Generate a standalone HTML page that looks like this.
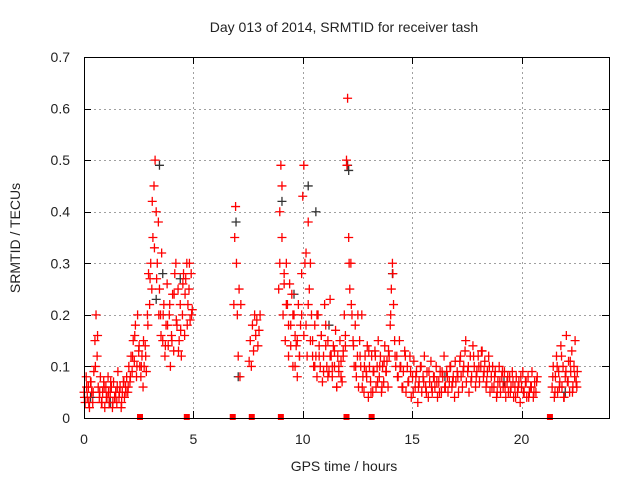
<!DOCTYPE html>
<html><head><meta charset="utf-8"><style>
html,body{margin:0;padding:0;background:#fff;}
svg{display:block;font-family:"Liberation Sans",sans-serif;}
</style></head><body>
<svg id="chart" width="640" height="480" viewBox="0 0 640 480"></svg>
<script>
const xTicks = [0,5,10,15,20];
const yTicks = [0,0.1,0.2,0.3,0.4,0.5,0.6,0.7];
const yTickLabels = ["0","0.1","0.2","0.3","0.4","0.5","0.6","0.7"];
const gapHours = [2.56,4.7,6.8,7.67,9.0,12.0,13.15,21.3];
const segStarts = [0,0.02,2.6,2.62,6.85,7.55,8.9,8.95,12.0,12.02,14.3,14.33,21.4,21.43];
const segSteps = [0.05,0.1,0.05,0.1,0.04,0.05,0.05,0.1,0.05,0.1,0.06,0.12,0.05,0.1];
const segValues = [
[0.05,0.03,0.08,0.04,0.06,0.02,0.07,0.05,0.03,0.09,0.15,0.2,0.12,0.06,0.04,0.08,0.03,0.05,0.07,0.02,0.06,0.04,0.08,0.03,0.05,0.06,0.02,0.07,0.04,0.05,0.03,0.09,0.04,0.06,0.02,0.05,0.07,0.04,0.06,0.08,0.05,0.1,0.07,0.12,0.09,0.15,0.11,0.18,0.08,0.2,0.13,0.1],
[0.04,0.06,0.03,0.07,0.05,0.1,0.16,0.05,0.03,0.06,0.04,0.05,0.07,0.03,0.04,0.06,0.05,0.03,0.07,0.05,0.06,0.08,0.12,0.16,0.1,0.14],
[0.08,0.12,0.06,0.1,0.14,0.09,0.2,0.28,0.22,0.3,0.25,0.35,0.45,0.5,0.4,0.3,0.38,0.25,0.2,0.32,0.15,0.22,0.12,0.18,0.26,0.14,0.2,0.1,0.16,0.24,0.13,0.28,0.3,0.18,0.25,0.15,0.22,0.12,0.2,0.28,0.16,0.27,0.3,0.22,0.25,0.19,0.28,0.21],
[0.1,0.15,0.12,0.18,0.27,0.42,0.33,0.27,0.2,0.16,0.2,0.14,0.18,0.22,0.15,0.24,0.19,0.13,0.17,0.26,0.24,0.18,0.3,0.2],
[0.22,0.35,0.41,0.3,0.2,0.12,0.25,0.08,0.22],
[0.11,0.15,0.1,0.18,0.13,0.2,0.16,0.19,0.14,0.17,0.2],
[0.25,0.4,0.49,0.35,0.2,0.28,0.15,0.3,0.22,0.12,0.26,0.18,0.24,0.1,0.2,0.16,0.14,0.08,0.22,0.12,0.18,0.28,0.43,0.49,0.3,0.18,0.12,0.38,0.25,0.3,0.2,0.15,0.1,0.18,0.12,0.08,0.2,0.14,0.1,0.16,0.07,0.12,0.22,0.18,0.1,0.15,0.09,0.23,0.12,0.08,0.14,0.1,0.17,0.06,0.12,0.09,0.15,0.11,0.07,0.13,0.2,0.16],
[0.3,0.45,0.26,0.22,0.18,0.14,0.2,0.1,0.15,0.12,0.2,0.16,0.32,0.22,0.15,0.12,0.1,0.2,0.12,0.16,0.09,0.14,0.08,0.12,0.1,0.13,0.06,0.1,0.08,0.12,0.14],
[0.5,0.62,0.35,0.25,0.3,0.2,0.15,0.1,0.18,0.08,0.12,0.06,0.15,0.1,0.2,0.08,0.05,0.12,0.09,0.14,0.04,0.1,0.07,0.12,0.05,0.09,0.13,0.06,0.1,0.15,0.08,0.12,0.05,0.1,0.07,0.14,0.09,0.11,0.06,0.12,0.18,0.25,0.3,0.22,0.15,0.1],
[0.49,0.3,0.22,0.14,0.1,0.2,0.12,0.06,0.1,0.08,0.13,0.05,0.09,0.12,0.07,0.1,0.06,0.11,0.09,0.13,0.2,0.28,0.12],
[0.12,0.08,0.15,0.1,0.06,0.09,0.13,0.05,0.1,0.07,0.12,0.04,0.08,0.11,0.06,0.09,0.03,0.07,0.1,0.05,0.08,0.12,0.06,0.09,0.04,0.07,0.11,0.05,0.08,0.06,0.1,0.04,0.07,0.09,0.05,0.08,0.12,0.06,0.09,0.05,0.07,0.1,0.06,0.08,0.04,0.07,0.09,0.05,0.11,0.08,0.06,0.1,0.13,0.07,0.09,0.05,0.12,0.08,0.14,0.1,0.06,0.09,0.12,0.07,0.1,0.13,0.08,0.11,0.06,0.09,0.12,0.05,0.08,0.1,0.06,0.09,0.04,0.07,0.1,0.05,0.08,0.06,0.09,0.04,0.07,0.05,0.08,0.06,0.09,0.04,0.06,0.08,0.05,0.07,0.03,0.06,0.09,0.05,0.07,0.04,0.08,0.05,0.06,0.09,0.04,0.07,0.05,0.08],
[0.08,0.1,0.06,0.12,0.07,0.09,0.05,0.08,0.06,0.1,0.07,0.05,0.09,0.06,0.08,0.07,0.05,0.09,0.06,0.08,0.1,0.07,0.11,0.08,0.12,0.09,0.15,0.1,0.07,0.12,0.08,0.1,0.13,0.09,0.07,0.1,0.06,0.08,0.05,0.07,0.09,0.06,0.08,0.05,0.07,0.04,0.06,0.08,0.05,0.07,0.04,0.06,0.05,0.07],
[0.06,0.1,0.04,0.08,0.12,0.05,0.09,0.07,0.14,0.06,0.1,0.04,0.08,0.16,0.07,0.11,0.05,0.09,0.13,0.06,0.1,0.15,0.07,0.09],
[0.08,0.05,0.1,0.06,0.12,0.04,0.09,0.07,0.11,0.05,0.08,0.06]
];
const blackHours = [3.3,3.45,3.6,4.4,6.95,7.05,9.05,10.25,10.6,12.05,12.1,14.1,16.5,19.2,22.0,0.3,1.2,9.6,11.2];
const blackVals = [0.23,0.49,0.28,0.27,0.38,0.08,0.42,0.45,0.4,0.49,0.48,0.28,0.08,0.07,0.05,0.04,0.03,0.24,0.18];

const NS="http://www.w3.org/2000/svg";
const svg=document.getElementById('chart');
const L=84,T=57,R=609,B=418,XMAX=24,YMAX=0.7;
function xs(h){return L+(R-L)*h/XMAX;}
function ys(v){return B-(B-T)*v/YMAX;}
function mk(tag,attrs,parent){const e=document.createElementNS(NS,tag);for(const k in attrs)e.setAttribute(k,attrs[k]);(parent||svg).appendChild(e);return e;}

const grid=mk('g',{stroke:'#a0a0a0','stroke-width':1,'stroke-dasharray':'2,3'});


xTicks.forEach(t=>{if(t>0){const x=Math.round(xs(t))+0.5;mk('line',{x1:x,y1:T,x2:x,y2:B},grid);}});
yTicks.forEach(t=>{if(t>0&&t<YMAX){const y=Math.round(ys(t))+0.5;mk('line',{x1:L,y1:y,x2:R,y2:y},grid);}});

const ticks=mk('g',{stroke:'#000','stroke-width':1});


xTicks.forEach(t=>{const x=Math.round(xs(t))+0.5;mk('line',{x1:x,y1:B,x2:x,y2:B-7},ticks);mk('line',{x1:x,y1:T,x2:x,y2:T+7},ticks);});
yTicks.forEach(t=>{const y=Math.round(ys(t))+0.5;mk('line',{x1:L,y1:y,x2:L+7,y2:y},ticks);mk('line',{x1:R,y1:y,x2:R-7,y2:y},ticks);});

const xl=mk('g',{'font-size':14,fill:'#222','text-anchor':'middle'});


xTicks.forEach(t=>{const e=mk('text',{x:xs(t),y:444},xl);e.textContent=String(t);});
const yl=mk('g',{'font-size':14,fill:'#222','text-anchor':'end'});


yTicks.forEach((t,i)=>{const e=mk('text',{x:70,y:ys(t)+5},yl);e.textContent=yTickLabels[i];});

function plus(g,h,v,c){const x=xs(h),y=ys(v);mk('path',{d:`M${x-4.5},${y}h9M${x},${y-4.5}v9`,stroke:c,'stroke-width':1.3,fill:'none'},g);}
const blk=mk('g',{});


blackHours.forEach((h,i)=>plus(blk,h,blackVals[i],'#333'));
const red=mk('g',{});


segValues.forEach((arr,s)=>arr.forEach((v,i)=>plus(red,segStarts[s]+i*segSteps[s],v,'#ff0000')));

const gm=mk('g',{fill:'#ff0000'});


gapHours.forEach(h=>mk('rect',{x:xs(h)-3,y:B-4,width:6,height:6},gm));

const frame=mk('rect',{x:L+0.5,y:T+0.5,width:R-L,height:B-T,fill:'none',stroke:'#000','stroke-width':1});



const title=mk('text',{x:344,y:32,'font-size':14,fill:'#222','text-anchor':'middle'});


title.textContent='Day 013 of 2014, SRMTID for receiver tash';
const xt=mk('text',{x:344,y:471,'font-size':14,fill:'#222','text-anchor':'middle'});


xt.textContent='GPS time / hours';
const yt=mk('text',{x:0,y:0,'font-size':14,fill:'#222','text-anchor':'middle',transform:'translate(20,238) rotate(-90)'});


yt.textContent='SRMTID / TECUs';
</script>
</body></html>
